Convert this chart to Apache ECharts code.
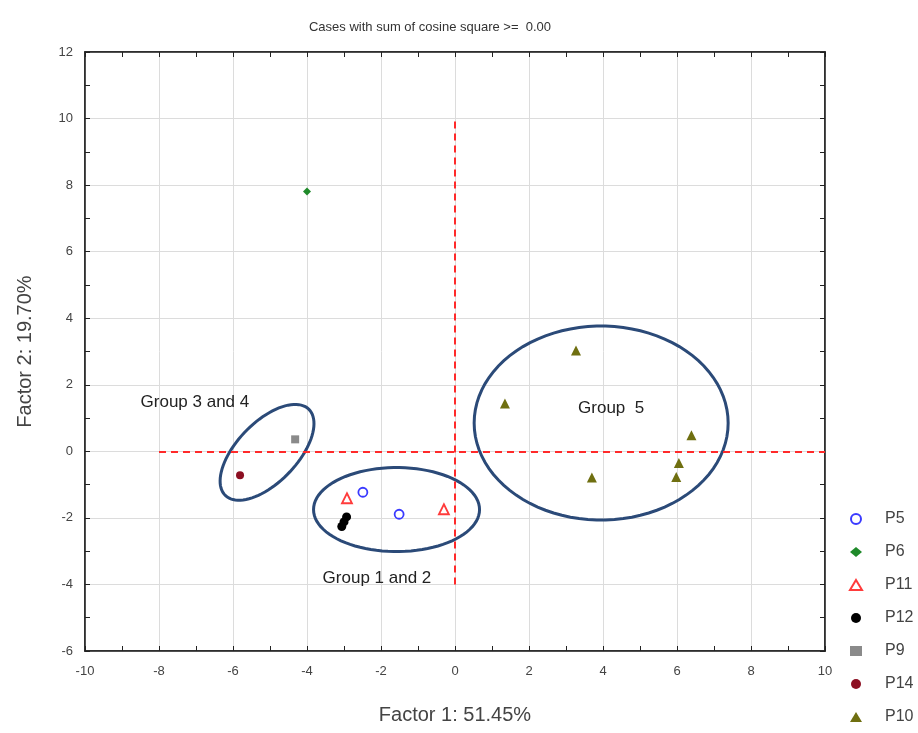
<!DOCTYPE html>
<html>
<head>
<meta charset="utf-8">
<script src="https://cdn.jsdelivr.net/npm/echarts@6/dist/echarts.min.js"></script>
<style>
	html, body { margin: 0; padding: 0; background: #fff; }
	#chart { width: 918px; height: 733px; }
</style>
</head>
<body>
<div id="chart"></div>
<script>
// 数据
var seriesNames = ['P5', 'P6', 'P11', 'P12', 'P9', 'P14', 'P10'];
var p5  = [[-2.49, -1.23], [-1.51, -1.89]];
var p6  = [[-4.0, 7.81]];
var p11 = [[-2.92, -1.41], [-0.30, -1.74]];
var p12 = [[-2.93, -1.97], [-3.0, -2.12], [-3.06, -2.26]];
var p9  = [[-4.32, 0.36]];
var p14 = [[-5.81, -0.72]];
var p10 = [[3.27, 3.03], [1.35, 1.44], [6.39, 0.48], [6.05, -0.35], [5.98, -0.77], [3.70, -0.79]];

var xTicks = [-10, -8, -6, -4, -2, 0, 2, 4, 6, 8, 10];
var yTicks = [-6, -4, -2, 0, 2, 4, 6, 8, 10, 12];

// 分组椭圆 (中心为数据坐标, 半轴为像素)
var rings = [
	{ name: 'Group 3 and 4', cx: -5.08, cy: -0.03, a: 60, b: 30, rot: 46, tx: -7.03, ty: 1.47 },
	{ name: 'Group 1 and 2', cx: -1.58, cy: -1.75, a: 83, b: 42, rot: 0, tx: -2.11, ty: -3.83 },
	{ name: 'Group  5', cx: 3.95, cy: 0.85, a: 127, b: 97, rot: 0, tx: 4.22, ty: 1.29 }
];

var tickFont = 'Liberation Sans';

function pointSeries(name, data, symbol, size, fill, border) {
	return {
		name: name,
		type: 'scatter',
		data: data,
		symbol: symbol,
		symbolSize: size,
		z: 5,
		itemStyle: {
			opacity: 1,
			color: fill,
			borderColor: border,
			borderWidth: fill === '#fff' ? 1.8 : 0
		}
	};
}

var chart = echarts.init(document.getElementById('chart'));

var option = {
	animation: false,
	title: {
		text: 'Cases with sum of cosine square >=  0.00',
		left: 425,
		textAlign: 'center',
		top: 16,
		textStyle: { fontFamily: tickFont, fontSize: 13, fontWeight: 'normal', color: '#333' }
	},
	legend: {
		orient: 'vertical',
		left: 849,
		top: 511,
		padding: 0,
		itemGap: 17,
		itemWidth: 12,
		itemHeight: 10,
		data: seriesNames,
		textStyle: { fontFamily: 'Liberation Sans', fontSize: 16, color: '#444', padding: [0, 0, 0, 18] }
	},
	grid: {
		left: 85, right: 93, top: 52, bottom: 82,
		show: true,
		borderColor: '#222',
		borderWidth: 1.5
	},
	xAxis: [{
		type: 'value',
		min: xTicks[0],
		max: xTicks[xTicks.length - 1],
		interval: 2,
		name: 'Factor 1: 51.45%',
		nameLocation: 'middle',
		nameGap: 54,
		nameTextStyle: { fontFamily: 'Liberation Sans', fontSize: 20, color: '#444' },
		axisLine: { show: true, onZero: false, lineStyle: { color: '#222', width: 1.5 } },
		axisTick: { inside: true, length: 5, lineStyle: { color: '#222' } },
		minorTick: { show: true, splitNumber: 2, length: 5, lineStyle: { color: '#222' } },
		axisLabel: { fontFamily: tickFont, fontSize: 13, color: '#444', margin: 14 },
		splitLine: { show: true, lineStyle: { color: '#dcdcdc', width: 1 } }
	}, {
		type: 'value',
		position: 'top',
		min: xTicks[0],
		max: xTicks[xTicks.length - 1],
		interval: 2,
		axisLine: { show: true, onZero: false, lineStyle: { color: '#222', width: 1.5 } },
		axisTick: { inside: true, length: 5, lineStyle: { color: '#222' } },
		minorTick: { show: true, splitNumber: 2, length: 5, lineStyle: { color: '#222' } },
		axisLabel: { show: false },
		splitLine: { show: false }
	}],
	yAxis: [{
		type: 'value',
		min: yTicks[0],
		max: yTicks[yTicks.length - 1],
		interval: 2,
		name: 'Factor 2: 19.70%',
		nameLocation: 'middle',
		nameGap: 50,
		nameTextStyle: { fontFamily: 'Liberation Sans', fontSize: 20, color: '#444' },
		axisLine: { show: true, onZero: false, lineStyle: { color: '#222', width: 1.5 } },
		axisTick: { inside: true, length: 5, lineStyle: { color: '#222' } },
		minorTick: { show: true, splitNumber: 2, length: 5, lineStyle: { color: '#222' } },
		axisLabel: { fontFamily: tickFont, fontSize: 13, color: '#444', margin: 12 },
		splitLine: { show: true, lineStyle: { color: '#dcdcdc', width: 1 } }
	}, {
		type: 'value',
		position: 'right',
		min: yTicks[0],
		max: yTicks[yTicks.length - 1],
		interval: 2,
		axisLine: { show: true, onZero: false, lineStyle: { color: '#222', width: 1.5 } },
		axisTick: { inside: true, length: 5, lineStyle: { color: '#222' } },
		minorTick: { show: true, splitNumber: 2, length: 5, lineStyle: { color: '#222' } },
		axisLabel: { show: false },
		splitLine: { show: false }
	}],
	series: [
		// 分组椭圆
		{
			type: 'custom',
			name: 'rings',
			z: 3,
			silent: true,
			data: rings.map(function (r) { return [r.cx, r.cy]; }),
			renderItem: function (params, api) {
				var r = rings[params.dataIndex];
				var c = api.coord([r.cx, r.cy]);
				var t = api.coord([r.tx, r.ty]);
				var th = r.rot * Math.PI / 180;
				var pts = [];
				for (var i = 0; i < 90; i++) {
					var u = i / 90 * Math.PI * 2;
					var ex = r.a * Math.cos(u), ey = r.b * Math.sin(u);
					pts.push([c[0] + ex * Math.cos(th) - ey * Math.sin(th),
						c[1] - (ex * Math.sin(th) + ey * Math.cos(th))]);
				}
				return {
					type: 'group',
					children: [{
						type: 'polygon',
						shape: { points: pts },
						style: { fill: 'none', stroke: '#2b4a78', lineWidth: 3 }
					}, {
						type: 'text',
						x: t[0], y: t[1],
						style: {
							text: r.name, fill: '#222',
							font: '17px "Liberation Sans"',
							align: 'center', verticalAlign: 'middle'
						}
					}]
				};
			}
		},
		// 红色虚线参考线
		{
			type: 'line',
			name: 'ref',
			data: [],
			silent: true,
			markLine: {
				silent: true,
				symbol: 'none',
				label: { show: false },
				lineStyle: { color: '#ff2a2a', type: [7, 5], width: 2 },
				data: [
					[{ coord: [0, -4] }, { coord: [0, 10] }],
					[{ coord: [-8, 0] }, { coord: [10, 0] }]
				]
			}
		},
		pointSeries('P5', p5, 'circle', 9, '#fff', '#3a3aff'),
		pointSeries('P6', p6, 'diamond', 8, '#1f8a2a', '#1f8a2a'),
		pointSeries('P11', p11, 'triangle', 10, '#fff', '#ff3b3b'),
		pointSeries('P12', p12, 'circle', 9, '#000', '#000'),
		pointSeries('P9', p9, 'rect', 8, '#8a8a8a', '#8a8a8a'),
		pointSeries('P14', p14, 'circle', 8, '#8c0f22', '#8c0f22'),
		pointSeries('P10', p10, 'triangle', 10, '#6f6f10', '#6f6f10')
	]
};

chart.setOption(option);
</script>
</body>
</html>
